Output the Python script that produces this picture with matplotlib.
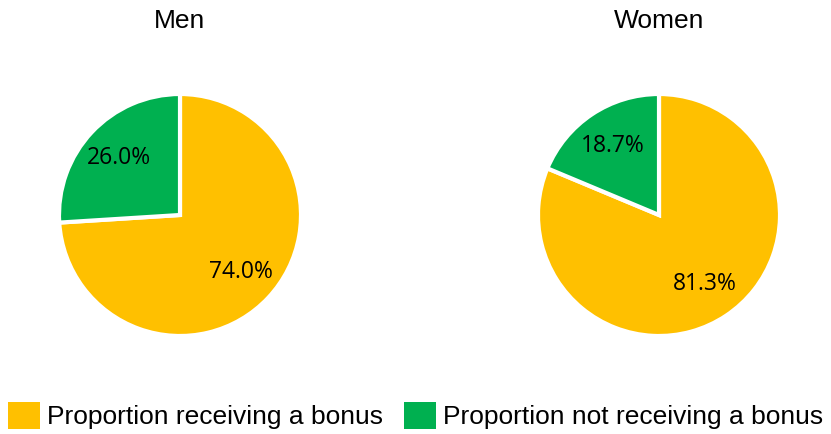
import matplotlib.pyplot as plt
from matplotlib.patches import Patch

groups = ["Men", "Women"]
received = [74.0, 81.3]
not_received = [26.0, 18.7]
categories = ["Proportion receiving a bonus", "Proportion not receiving a bonus"]
colors = ["#FFC000", "#00B050"]

W, H = 831, 434
fig = plt.figure(figsize=(W / 100, H / 100), dpi=100)

centers = [(180, 215), (659, 215)]
r = 121

for i, name in enumerate(groups):
    cx, cy = centers[i]
    ax = fig.add_axes([(cx - r) / W, 1 - (cy + r) / H, 2 * r / W, 2 * r / H])
    wedges, texts, autotexts = ax.pie(
        [received[i], not_received[i]], colors=colors, startangle=90,
        counterclock=False, autopct="%.1f%%", pctdistance=0.69,
        wedgeprops=dict(edgecolor="white", linewidth=3),
        textprops=dict(fontsize=16.5, family="Open Sans", color="black"))
    ax.set_aspect("equal")
    ax.set_xlim(-1.0, 1.0)
    ax.set_ylim(-1.0, 1.0)
    fig.text(cx / W, 1 - 21 / H, name, ha="center", va="center",
             fontsize=19, family="Liberation Sans")

handles = [Patch(facecolor=c, edgecolor="none") for c in colors]
fig.legend(handles, categories, loc="lower center", ncol=2, frameon=False,
           bbox_to_anchor=(0.5, -0.025), prop=dict(family="Liberation Sans", size=19),
           handlelength=1.2, handleheight=1.2, handletextpad=0.27,
           columnspacing=0.8, borderaxespad=0.2)

fig.savefig("out.png", dpi=100)
